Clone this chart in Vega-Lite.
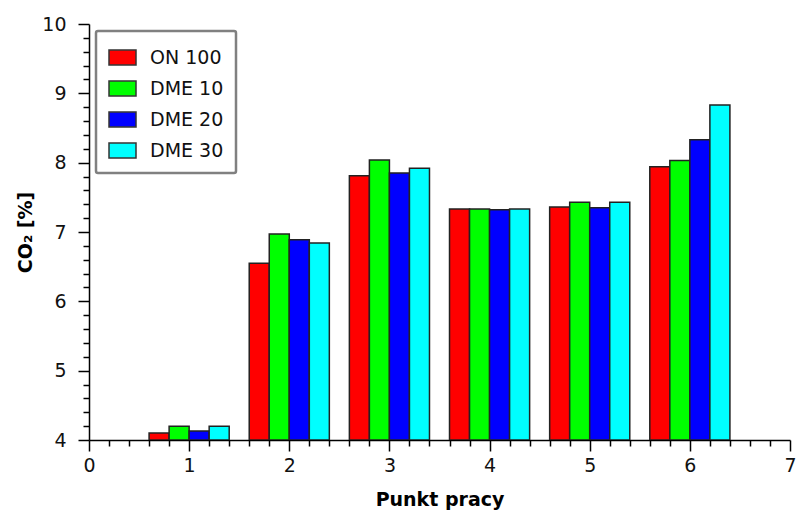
{
  "$schema": "https://vega.github.io/schema/vega-lite/v6.json",
  "width": 701,
  "height": 416,
  "autosize": {"type": "none"},
  "padding": {"left": 89, "top": 24, "right": 7, "bottom": 73},
  "background": "white",
  "config": {
    "view": {"stroke": null},
    "font": "DejaVu Sans",
    "axis": {"labelFont": "DejaVu Sans", "titleFont": "DejaVu Sans", "labelColor": "#111", "titleColor": "#000", "domainColor": "#000", "tickColor": "#000", "domainWidth": 1.5, "tickWidth": 1.5, "grid": false}
  },
  "data": {
    "values": [
      {"point": 1, "series": "ON 100", "value": 4.10},
      {"point": 1, "series": "DME 10", "value": 4.20},
      {"point": 1, "series": "DME 20", "value": 4.13},
      {"point": 1, "series": "DME 30", "value": 4.20},
      {"point": 2, "series": "ON 100", "value": 6.55},
      {"point": 2, "series": "DME 10", "value": 6.97},
      {"point": 2, "series": "DME 20", "value": 6.89},
      {"point": 2, "series": "DME 30", "value": 6.84},
      {"point": 3, "series": "ON 100", "value": 7.81},
      {"point": 3, "series": "DME 10", "value": 8.04},
      {"point": 3, "series": "DME 20", "value": 7.85},
      {"point": 3, "series": "DME 30", "value": 7.92},
      {"point": 4, "series": "ON 100", "value": 7.33},
      {"point": 4, "series": "DME 10", "value": 7.33},
      {"point": 4, "series": "DME 20", "value": 7.32},
      {"point": 4, "series": "DME 30", "value": 7.33},
      {"point": 5, "series": "ON 100", "value": 7.36},
      {"point": 5, "series": "DME 10", "value": 7.43},
      {"point": 5, "series": "DME 20", "value": 7.35},
      {"point": 5, "series": "DME 30", "value": 7.43},
      {"point": 6, "series": "ON 100", "value": 7.94},
      {"point": 6, "series": "DME 10", "value": 8.03},
      {"point": 6, "series": "DME 20", "value": 8.33},
      {"point": 6, "series": "DME 30", "value": 8.83}
    ]
  },
  "transform": [
    {"calculate": "datum.point - 0.4 + 0.2 * indexof(['ON 100','DME 10','DME 20','DME 30'], datum.series)", "as": "x0"},
    {"calculate": "datum.x0 + 0.2", "as": "x1"}
  ],
  "layer": [
    {
      "mark": {"type": "bar", "opacity": 0},
      "encoding": {
        "x": {
          "field": "x0", "type": "quantitative",
          "scale": {"domain": [0, 7], "nice": false, "zero": false},
          "axis": {
            "orient": "bottom", "title": null, "labels": false, "domain": false, "tickSize": 6,
            "values": [0.2,0.4,0.6,0.8,1.2,1.4,1.6,1.8,2.2,2.4,2.6,2.8,3.2,3.4,3.6,3.8,4.2,4.4,4.6,4.8,5.2,5.4,5.6,5.8,6.2,6.4,6.6,6.8]
          }
        },
        "x2": {"field": "x1"},
        "y": {
          "field": "value", "type": "quantitative",
          "scale": {"domain": [4, 10], "nice": false, "zero": false},
          "axis": {
            "orient": "left", "title": null, "labels": false, "domain": false, "tickSize": 6,
            "values": [4.2,4.4,4.6,4.8,5.2,5.4,5.6,5.8,6.2,6.4,6.6,6.8,7.2,7.4,7.6,7.8,8.2,8.4,8.6,8.8,9.2,9.4,9.6,9.8]
          }
        },
        "y2": {"datum": 4}
      }
    },
    {
      "mark": {"type": "bar", "stroke": "#222", "strokeWidth": 1.5, "clip": true},
      "encoding": {
        "x": {
          "field": "x0", "type": "quantitative",
          "axis": {
            "orient": "bottom",
            "title": "Punkt pracy",
            "titleFontSize": 19, "titleFontWeight": "bold",
            "titleY": 65, "titleBaseline": "alphabetic",
            "labelFontSize": 19, "labelPadding": 5, "tickSize": 11,
            "values": [0,1,2,3,4,5,6,7], "format": "d",
            "labelFlush": false
          }
        },
        "x2": {"field": "x1"},
        "y": {
          "field": "value", "type": "quantitative",
          "axis": {
            "orient": "left",
            "title": "CO₂ [%]",
            "titleFontSize": 19, "titleFontWeight": "bold",
            "titleX": -64, "titleY": 208, "titleAngle": -90, "titleBaseline": "middle", "titleAlign": "center",
            "labelFontSize": 19, "labelPadding": 12, "tickSize": 11,
            "values": [4,5,6,7,8,9,10], "format": "d",
            "labelFlush": false
          }
        },
        "y2": {"datum": 4},
        "fill": {
          "field": "series", "type": "nominal",
          "scale": {"domain": ["ON 100", "DME 10", "DME 20", "DME 30"], "range": ["#FF0000", "#00FF00", "#0000FF", "#00FFFF"]},
          "legend": {
            "title": null,
            "orient": "none", "legendX": 7, "legendY": 7,
            "direction": "vertical",
            "strokeColor": "#808080", "cornerRadius": 2,
            "padding": 12,
            "symbolType": "M-1,-0.55H1V0.55H-1Z", "symbolSize": 729,
            "symbolStrokeColor": "#333", "symbolStrokeWidth": 1.5, "symbolOpacity": 1,
            "labelFontSize": 19, "labelFont": "DejaVu Sans", "labelColor": "#111", "labelOffset": 13,
            "rowPadding": 6,
            "encode": {"legend": {"update": {"strokeWidth": {"value": 2.5}}}}
          }
        }
      }
    }
  ],
  "resolve": {"axis": {"x": "independent", "y": "independent"}}
}
